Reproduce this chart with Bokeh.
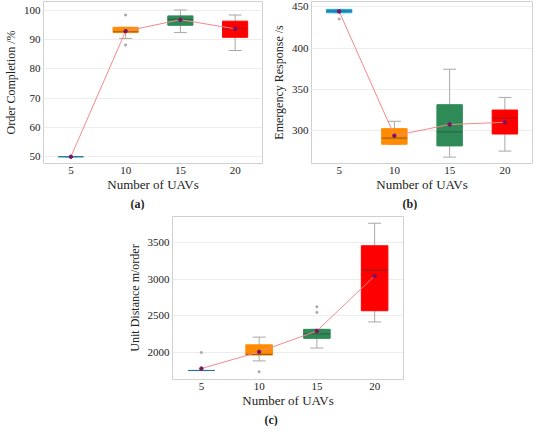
from bokeh.plotting import figure
from bokeh.models import ColumnDataSource, Whisker, TeeHead, Range1d, Spacer
from bokeh.layouts import column, row
from bokeh.transform import dodge
from bokeh.embed import file_html
from bokeh.resources import INLINE

uavs = ["5", "10", "15", "20"]
box_colors = ["#1CA9E1", "#FF8C00", "#2E8B57", "#FF0000"]

# (a) Order completion %
a_q1 = [50, 92.3, 94.8, 90.7]
a_q3 = [50, 94.1, 98.0, 96.2]
a_med = [50, 92.6, 96.8, 93.8]
a_lo = [50, 90.3, 92.3, 86.2]
a_hi = [50, 94.1, 100.0, 98.3]
a_mean = [50, 92.8, 96.7, 93.6]
a_out_x = ["10", "10"]
a_out_y = [98.3, 88.1]

# (b) Emergency response /s
b_q1 = [443, 283.8, 281.8, 296.2]
b_q3 = [447, 302.7, 331.7, 325.2]
b_med = [445, 291.2, 298.8, 315.5]
b_lo = [443, 283.8, 268.2, 275.5]
b_hi = [447, 311.6, 374.6, 340.5]
b_mean = [444.6, 294.2, 307.7, 310.4]
b_out_x = ["5"]
b_out_y = [435.4]

# (c) Unit distance m/order
c_q1 = [1754, 1965, 2193, 2570]
c_q3 = [1756, 2105, 2316, 3456]
c_med = [1755, 1974, 2254, 3123]
c_lo = [1754, 1886, 2061, 2417]
c_hi = [1756, 2210, 2316, 3763]
c_mean = [1781, 2009, 2294, 3044]
c_out_x = ["5", "10", "15", "15"]
c_out_y = [2000, 1737, 2623, 2548]

FONT = "Liberation Serif"
BW = 0.46


def panel(tag, ylabel, q1, q3, med, lo, hi, mean, ox, oy, yr, ticks, w, h,
          bl, br, bt, toff):
    p = figure(x_range=uavs, y_range=Range1d(*yr), width=w, height=h,
               output_backend="svg", toolbar_location=None,
               min_border_left=bl, min_border_right=br, min_border_top=bt,
               min_border_bottom=0)
    src = ColumnDataSource(dict(x=uavs, q1=q1, q3=q3, med=med, lo=lo, hi=hi,
                                mean=mean, color=box_colors))
    wh = Whisker(source=src, base="x", lower="lo", upper="hi",
                 line_color="#A8A8A8", line_width=1,
                 lower_head=TeeHead(size=13, line_color="#A8A8A8", line_width=1),
                 upper_head=TeeHead(size=13, line_color="#A8A8A8", line_width=1))
    p.add_layout(wh)
    p.vbar(x="x", bottom="q1", top="q3", width=BW, source=src,
           fill_color="color", line_color="color", line_width=1)
    p.segment(x0=dodge("x", -BW / 2, range=p.x_range), x1=dodge("x", BW / 2, range=p.x_range),
              y0="med", y1="med", source=src, line_color="#3A3A3A", line_alpha=0.5,
              line_width=1.1)
    p.line(x="x", y="mean", source=src, line_color="#F28A8A", line_width=1)
    p.scatter(x="x", y="mean", source=src, size=3.5, fill_color="#7B1460",
              line_color="#7B1460")
    p.scatter(x=ox, y=oy, size=2.2, fill_color="#A8A8A8", line_color="#A8A8A8")

    p.xgrid.visible = False
    p.ygrid.grid_line_color = "#EDEDED"
    p.outline_line_color = "#D0D0D0"
    p.yaxis.ticker = ticks
    for ax in (p.xaxis[0], p.yaxis[0]):
        ax.axis_line_color = None
        ax.major_tick_line_color = None
        ax.minor_tick_line_color = None
        ax.major_tick_out = 0
        ax.major_tick_in = 0
        ax.major_label_text_font = FONT
        ax.major_label_text_font_size = "11px"
        ax.major_label_text_color = "#222222"
        ax.axis_label_text_font = FONT
        ax.axis_label_text_font_style = "normal"
        ax.axis_label_text_color = "#222222"
        ax.major_label_standoff = 3
    p.xaxis.axis_label = "Number of UAVs"
    p.xaxis.axis_label_text_font_size = "13px"
    p.xaxis.axis_label_standoff = 0
    p.yaxis.axis_label = ylabel
    p.yaxis.axis_label_text_font_size = "12px"
    p.yaxis.axis_label_standoff = 3
    p.title_location = "below"
    p.title.text = tag
    p.title.align = "left"
    p.title.offset = toff
    p.title.standoff = 0
    p.title.text_font = FONT
    p.title.text_font_size = "12px"
    p.title.text_font_style = "bold"
    p.title.text_color = "#222222"
    return p


pa = panel("(a)", "Order Completion /%", a_q1, a_q3, a_med, a_lo, a_hi, a_mean,
           a_out_x, a_out_y, (47.7, 102.9), [50, 60, 70, 80, 90, 100],
           268, 210, 34, 6, 1, 87)
pb = panel("(b)", "Emergency Response /s", b_q1, b_q3, b_med, b_lo, b_hi, b_mean,
           b_out_x, b_out_y, (260.5, 456.6), [300, 350, 400, 450],
           266, 210, 38, 2, 1, 91)
pc = panel("(c)", "Unit Distance m/order", c_q1, c_q3, c_med, c_lo, c_hi, c_mean,
           c_out_x, c_out_y, (1632, 3855), [2000, 2500, 3000, 3500],
           283, 216, 44, 4, 6, 92)

layout = column(row(pa, pb), row(Spacer(width=124, height=10), pc))

open("out.html", "w").write(file_html(layout, INLINE))
